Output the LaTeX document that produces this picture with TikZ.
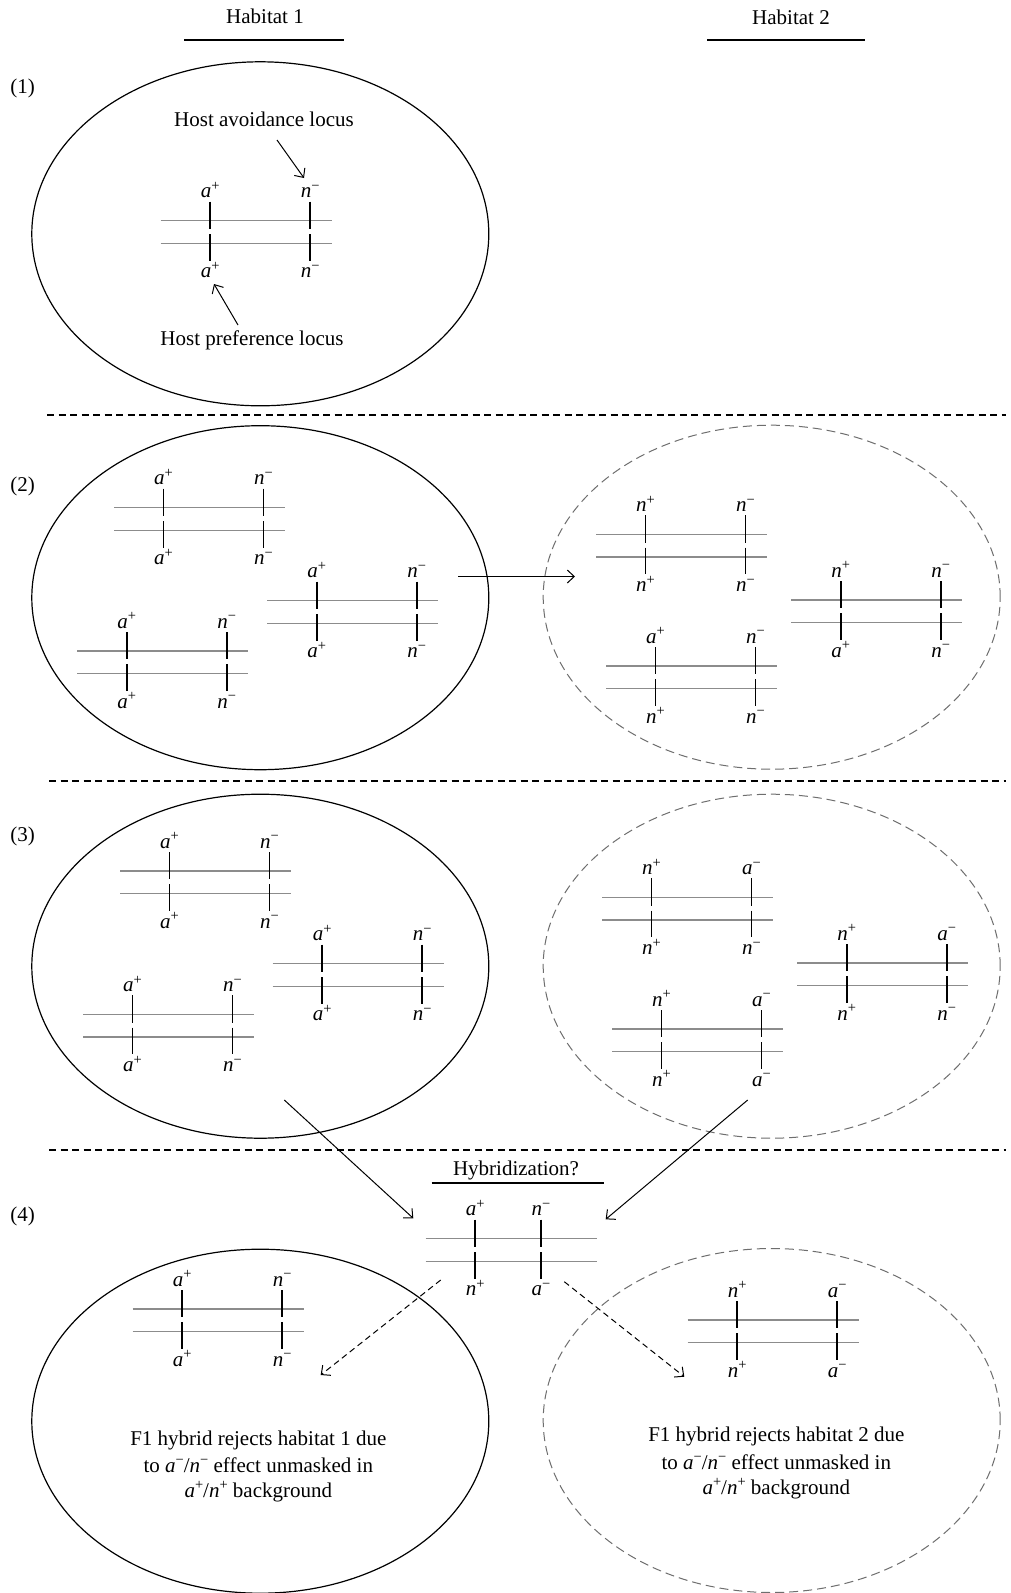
\documentclass[tikz,border=0pt]{standalone}
\usepackage{fontspec}
\setmainfont{Liberation Serif}
\usetikzlibrary{arrows.meta,shapes.geometric}

\definecolor{chromgray}{RGB}{140,140,140}
\definecolor{ellgray}{RGB}{110,110,110}

% allele symbol: italic letter with a raised sign
\newcommand\allele[2]{\textit{#1}\raisebox{7.2pt}{\fontsize{14.5}{14.5}\selectfont #2}}
\newcommand\ap{\allele{a}{+}}
\newcommand\am{\allele{a}{−}}
\newcommand\np{\allele{n}{+}}
\newcommand\nm{\allele{n}{−}}

\tikzset{
  every node/.style={font=\fontsize{21}{25}\selectfont},
  chrom/.style={draw=chromgray, line width=1.5pt},
  tickmark/.style={draw=black, line width=1.7pt},
  allele/.style={anchor=base, inner sep=0pt},
  txt/.style={anchor=base, inner sep=0pt},
  habitat/.style={ellipse, draw=black, line width=1.2pt, minimum width=457pt,
                  minimum height=344pt, inner sep=0pt, outer sep=0pt},
  foreign/.style={habitat, draw=ellgray, line width=1pt, dash pattern=on 9pt off 5pt},
  separator/.style={line width=1.3pt, dash pattern=on 7pt off 4.5pt},
  headline/.style={line width=2.2pt},
  arr/.style={line width=1pt, -{Straight Barb[length=7pt,width=13pt,line width=1pt]}},
  darr/.style={arr, dash pattern=on 6pt off 4pt},
}

% homologous chromosome pair: [tick spacing]{name}{left x}{upper line y}{top A}{top B}{bottom A}{bottom B}
\newcommand\chrompair[8][100]{%
  \begin{scope}[shift={(#3,#4)}]
    \draw[chrom] (0,0) -- (171,0);
    \draw[chrom] (0,22.6) -- (171,22.6);
    \draw[tickmark] (49.5,-19) -- (49.5,8.3) (49.5,13.3) -- (49.5,40);
    \draw[tickmark] (49.5+#1,-19) -- (49.5+#1,8.3) (49.5+#1,13.3) -- (49.5+#1,40);
    \node[allele] (#2-ta) at (49.5,-23) {#5};
    \node[allele] (#2-tb) at (49.5+#1,-23) {#6};
    \node[allele] (#2-ba) at (49.5,57) {#7};
    \node[allele] (#2-bb) at (49.5+#1,57) {#8};
    \coordinate (#2) at (85.5,11.3);
  \end{scope}}

\begin{document}
\begin{tikzpicture}[x=1pt, y=-1pt]
  \fill[white] (0,0) rectangle (1010,1593);
  \useasboundingbox (0,0) rectangle (1010,1593);

  % column headings
  \node[txt] (h1) at (265,23.3) {Habitat 1};
  \draw[headline] (184,40) -- (344,40);
  \node[txt] (h2) at (791,24.5) {Habitat 2};
  \draw[headline] (707,40) -- (865,40);

  % row labels
  \node (r1) at (22.7,88) {(1)};
  \node (r2) at (22.7,486.5) {(2)};
  \node (r3) at (22.7,836.5) {(3)};
  \node (r4) at (22.7,1216.5) {(4)};

  % row separators
  \draw[separator] (47,415) -- (1006,415);
  \draw[separator] (49,781) -- (1006,781);
  \draw[separator] (49,1150) -- (1006,1150);

  % ---------- row 1 ----------
  \node[habitat] (e1) at (260.3,233.8) {};
  \chrompair{p1}{160.7}{220.7}{\ap}{\nm}{\ap}{\nm}
  \node[txt] (avoid) at (264,126.7) {Host avoidance locus};
  \node[txt] (prefer) at (252,345) {Host preference locus};
  \coordinate (avoidfrom) at (277,140);
  \coordinate (avoidto) at (304,178);
  \coordinate (preffrom) at (238,325);
  \coordinate (prefto) at (214,284);
  \draw[arr] (avoidfrom) -- (avoidto);
  \draw[arr] (preffrom) -- (prefto);

  % ---------- row 2 ----------
  \node[habitat] (e2l) at (260.3,597.7) {};
  \node[foreign] (e2r) at (771.7,597.2) {};
  \chrompair{pA}{114}{507.7}{\ap}{\nm}{\ap}{\nm}
  \chrompair{pB}{267.3}{600.7}{\ap}{\nm}{\ap}{\nm}
  \chrompair{pC}{77.3}{651}{\ap}{\nm}{\ap}{\nm}
  \chrompair{pD}{596}{534.3}{\np}{\nm}{\np}{\nm}
  \chrompair{pE}{791.3}{600}{\np}{\nm}{\ap}{\nm}
  \chrompair{pF}{606}{666}{\ap}{\nm}{\np}{\nm}
  \coordinate (migfrom) at (458.3,576.5);
  \coordinate (migto) at (575,576.5);
  \draw[arr] (migfrom) -- (migto);

  % ---------- row 3 ----------
  \node[habitat] (e3l) at (260.3,966.2) {};
  \node[foreign] (e3r) at (771.7,966.2) {};
  \chrompair{pG}{120}{871}{\ap}{\nm}{\ap}{\nm}
  \chrompair{pH}{272.7}{963.7}{\ap}{\nm}{\ap}{\nm}
  \chrompair{pI}{83}{1014.3}{\ap}{\nm}{\ap}{\nm}
  \chrompair{pJ}{602}{897.3}{\np}{\am}{\np}{\nm}
  \chrompair{pK}{797.3}{963}{\np}{\am}{\np}{\nm}
  \chrompair{pL}{612}{1029}{\np}{\am}{\np}{\am}

  % ---------- row 4 ----------
  \node[txt] (hyb) at (516,1175) {Hybridization?};
  \draw[headline] (431.7,1183.3) -- (603.5,1183.3);
  \chrompair[65.7]{ph}{425.7}{1238.7}{\ap}{\nm}{\np}{\am}
  \coordinate (crossl) at (284.3,1100);
  \coordinate (crossr) at (747.7,1100);
  \coordinate (hybl) at (413.3,1218.3);
  \coordinate (hybr) at (605.7,1219.3);
  \draw[arr] (crossl) -- (hybl);
  \draw[arr] (crossr) -- (hybr);

  \node[habitat] (e4l) at (260.3,1421.2) {};
  \node[foreign] (e4r) at (771.7,1420.5) {};
  \chrompair{pM}{132.7}{1309}{\ap}{\nm}{\ap}{\nm}
  \chrompair{pN}{687.7}{1320}{\np}{\am}{\np}{\am}

  \coordinate (backl) at (440.7,1280);
  \coordinate (intol) at (320.7,1375);
  \coordinate (backr) at (564.3,1281.7);
  \coordinate (intor) at (684.3,1376.7);
  \draw[darr] (backl) -- (intol);
  \draw[darr] (backr) -- (intor);

  \node[txt] (t4l1) at (258.3,1445) {F1 hybrid rejects habitat 1 due};
  \node[txt] (t4l2) at (258.3,1472) {to \am/\nm{} effect unmasked in};
  \node[txt] (t4l3) at (258.3,1497) {\ap/\np{} background};
  \node[txt] (t4r1) at (776.3,1441.7) {F1 hybrid rejects habitat 2 due};
  \node[txt] (t4r2) at (776.3,1469) {to \am/\nm{} effect unmasked in};
  \node[txt] (t4r3) at (776.3,1494) {\ap/\np{} background};
\end{tikzpicture}
\end{document}
